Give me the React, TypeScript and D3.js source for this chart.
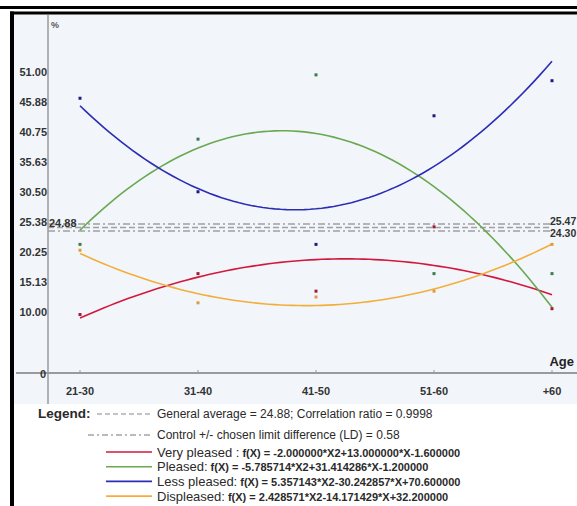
import React from "react";
import * as d3 from "d3";

const categories = ["21-30", "31-40", "41-50", "51-60", "+60"];

const veryPleased = [10, 17, 14, 25, 11];
const pleased = [22, 40, 51, 17, 17];
const lessPleased = [47, 31, 22, 44, 50];
const displeased = [21, 12, 13, 14, 22];

// quadratic fit coefficients as printed in the legend: a*X2 + b*X + c
const veryPleasedFit = [-2.0, 13.0, -1.6];
const pleasedFit = [-5.785714, 31.414286, -1.2];
const lessPleasedFit = [5.357143, -30.242857, 70.6];
const displeasedFit = [2.428571, -14.171429, 32.2];

const yTicks = [0, 10, 15.13, 20.25, 25.38, 30.5, 35.63, 40.75, 45.88, 51];

const generalAverage = 24.88;
const controlLimits = [25.47, 24.3];
const limitDifference = 0.58;
const correlationRatio = 0.9998;

const series = [
  { name: "Very pleased :", values: veryPleased, fit: veryPleasedFit, color: "#d2183e", dot: "#a01c34" },
  { name: "Pleased:", values: pleased, fit: pleasedFit, color: "#6aa851", dot: "#3d7a46" },
  { name: "Less pleased:", values: lessPleased, fit: lessPleasedFit, color: "#2c2cb4", dot: "#1c1c7c" },
  { name: "Displeased:", values: displeased, fit: displeasedFit, color: "#f3ae3a", dot: "#e09a3c" }
];

const W = 577;
const H = 506;
const font = "'Liberation Sans', Arial, sans-serif";

const fmtCoef = (v: number, first: boolean) =>
  (v >= 0 && !first ? "+" : "") + v.toFixed(6);

const formula = (f: number[]) =>
  `f(X) = ${fmtCoef(f[0], true)}*X2${fmtCoef(f[1], false)}*X${fmtCoef(f[2], false)}`;

export default function App() {
  const x = d3.scalePoint<string>().domain(categories).range([80, 552]);
  const xNum = d3.scaleLinear().domain([1, 5]).range([80, 552]);
  const y = d3.scaleLinear().domain([0, 51]).range([373, 373 - 51 * 5.846]);

  const curve = (f: number[]) =>
    d3
      .line<number>()
      .x((t) => xNum(t))
      .y((t) => y(f[0] * t * t + f[1] * t + f[2]))(d3.range(1, 5.0001, 0.05));

  const axisColor = "#9a9a9a";
  const refColor = "#a0a0a0";

  return (
    <svg
      width={W}
      height={H}
      style={{ position: "absolute", left: 0, top: 0, background: "#fff" }}
      fontFamily={font}
    >
      {/* frame */}
      <rect x={0} y={6} width={W} height={3} fill="#000" />
      <rect x={12} y={13} width={W} height={391} fill="#f2f6fb" />
      <rect x={10} y={11.5} width={W} height={3} fill="#000" />
      <rect x={10} y={11.5} width={4} height={H} fill="#000" />

      {/* axes */}
      <line x1={48} x2={48} y1={15} y2={404} stroke={axisColor} strokeWidth={1.5} />
      <line x1={16} x2={W} y1={373} y2={373} stroke={axisColor} strokeWidth={2} />
      {categories.map((c) => (
        <line key={c} x1={x(c)} x2={x(c)} y1={370} y2={373} stroke={axisColor} />
      ))}
      <text x={51} y={28} fontSize={9} fontWeight="bold" fill="#555">
        %
      </text>
      <text x={574} y={366} fontSize={13} fontWeight="bold" fill="#222" textAnchor="end">
        Age
      </text>

      {yTicks.map((t) => (
        <text
          key={t}
          x={t === 0 ? 46 : 47}
          y={t === 0 ? y(t) + 5 : y(t) + 1.5}
          fontSize={11}
          fontWeight="bold"
          fill="#333"
          textAnchor="end"
        >
          {t === 0 ? "0" : d3.format(".2f")(t)}
        </text>
      ))}

      {categories.map((c) => (
        <text
          key={c}
          x={x(c)}
          y={395}
          fontSize={11}
          fontWeight="bold"
          fill="#333"
          textAnchor="middle"
        >
          {c}
        </text>
      ))}

      {/* general average and control limits */}
      <line
        x1={48}
        x2={552}
        y1={y(generalAverage)}
        y2={y(generalAverage)}
        stroke={refColor}
        strokeWidth={1.5}
        strokeDasharray="6,3"
      />
      {controlLimits.map((v) => (
        <line
          key={v}
          x1={48}
          x2={552}
          y1={y(v)}
          y2={y(v)}
          stroke={refColor}
          strokeWidth={1.5}
          strokeDasharray="7,3,2,3"
        />
      ))}
      <text x={49} y={y(generalAverage) - 0.5} fontSize={11} fontWeight="bold" fill="#333">
        {generalAverage.toFixed(2)}
      </text>
      <text x={550} y={y(controlLimits[0]) + 1} fontSize={10.5} fontWeight="bold" fill="#333">
        {controlLimits[0].toFixed(2)}
      </text>
      <text x={550} y={y(controlLimits[1]) + 6} fontSize={10.5} fontWeight="bold" fill="#333">
        {controlLimits[1].toFixed(2)}
      </text>

      {/* fitted curves */}
      {series.map((s) => (
        <path key={s.name} d={curve(s.fit) || ""} fill="none" stroke={s.color} strokeWidth={1.6} />
      ))}

      {/* observed values */}
      {series.map((s) =>
        s.values.map((v, i) => (
          <rect
            key={s.name + i}
            x={x(categories[i])! - 1.5}
            y={y(v) - 1.5}
            width={3}
            height={3}
            fill={s.dot}
          />
        ))
      )}

      {/* legend */}
      <g fill="#2a2a2a">
        <text x={38} y={418} fontSize={13.5} fontWeight="bold">
          Legend:
        </text>
        <line x1={97} x2={152} y1={414} y2={414} stroke="#888" strokeDasharray="5,3" />
        <text x={157} y={418} fontSize={12}>
          {`General average = ${generalAverage}; Correlation ratio = ${correlationRatio}`}
        </text>
        <line x1={88} x2={152} y1={435} y2={435} stroke="#777" strokeDasharray="6,3,2,3" />
        <text x={157} y={439} fontSize={12}>
          {`Control +/- chosen limit difference (LD) = ${limitDifference}`}
        </text>
        {series.map((s, i) => {
          const ly = 452 + i * 14.7;
          return (
            <g key={s.name}>
              <line x1={106} x2={152} y1={ly} y2={ly} stroke={s.color} strokeWidth={1.6} />
              <text x={157} y={ly + 4.5} fontSize={13}>
                {s.name}
                <tspan fontSize={11} fontWeight="bold" dx={3}>
                  {formula(s.fit)}
                </tspan>
              </text>
            </g>
          );
        })}
      </g>
    </svg>
  );
}
